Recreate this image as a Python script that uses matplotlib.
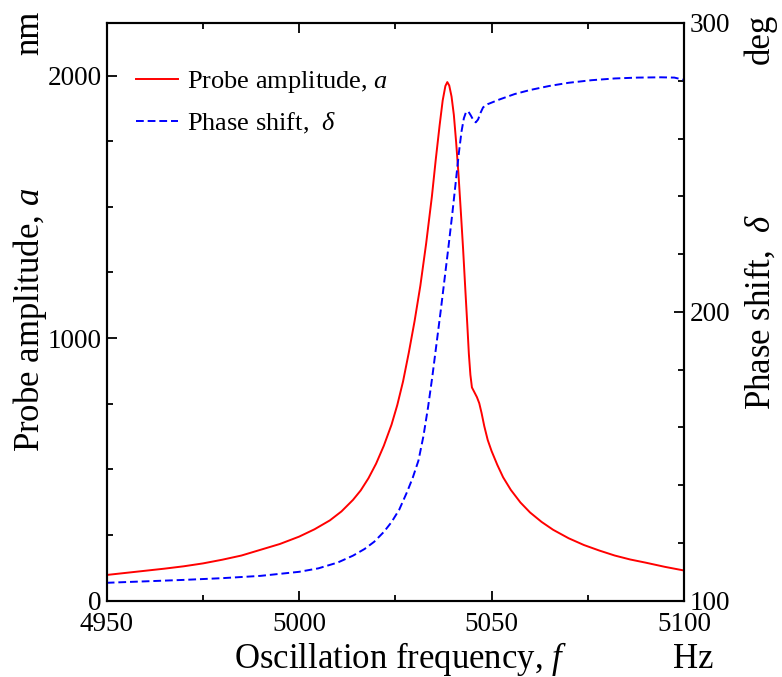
import matplotlib
matplotlib.use("Agg")
import matplotlib.pyplot as plt
from matplotlib.ticker import MultipleLocator

plt.rcParams['font.family'] = ['Liberation Serif', 'DejaVu Serif']
plt.rcParams['mathtext.fontset'] = 'custom'
plt.rcParams['mathtext.rm'] = 'Liberation Serif'
plt.rcParams['mathtext.it'] = 'Liberation Serif:italic'
plt.rcParams['mathtext.fallback'] = 'stix'

# probe amplitude a (nm) vs oscillation frequency f (Hz)
freq_amp = [4950, 4955, 4960, 4965, 4970, 4975, 4980, 4985, 4990, 4995, 5000,
            5004, 5008, 5011, 5014, 5016, 5018, 5020, 5022, 5024, 5025.5, 5027,
            5028.5, 5030, 5031.5, 5033, 5034.5, 5035.5, 5036.5, 5037.3, 5038.0,
            5038.5, 5039.0, 5039.6, 5040.2, 5040.8, 5041.4, 5042.0, 5042.6,
            5043.2, 5043.7, 5044.1, 5044.5, 5044.9, 5045.5, 5046.2, 5046.8,
            5047.4, 5048.1, 5049, 5050, 5051.5, 5053, 5055, 5057.5, 5060, 5063,
            5066, 5070, 5074, 5078, 5082, 5086, 5090, 5095, 5100]
amplitude = [98, 106, 114, 122, 131, 142, 156, 172, 194, 216, 244,
             272, 306, 340, 384, 420, 466, 522, 590, 670, 745, 835,
             945, 1065, 1200, 1360, 1540, 1680, 1810, 1905, 1960,
             1975, 1962, 1920, 1850, 1745, 1625, 1485, 1340,
             1180, 1050, 940, 860, 812, 795, 775, 752,
             715, 665, 612, 570, 517, 470, 422, 374, 336, 300,
             270, 238, 212, 191, 172, 157, 145, 129, 115]

# phase shift delta (deg) vs oscillation frequency f (Hz)
freq_phase = [4950, 4960, 4970, 4980, 4990, 5000, 5005, 5010, 5014, 5017,
              5019.5, 5022, 5024, 5026, 5028, 5029.5, 5031, 5032.3, 5033.5,
              5034.6, 5035.7, 5036.8, 5037.8, 5038.8, 5039.8, 5040.7, 5041.5,
              5042.2, 5042.8, 5043.4, 5044.0, 5044.6, 5045.3, 5045.9, 5046.5,
              5047.1, 5047.8, 5049, 5052, 5056, 5060, 5065, 5070, 5076, 5082,
              5088, 5094, 5097.5, 5100]
phase = [106.2, 106.7, 107.2, 107.8, 108.6, 110.0, 111.2, 113.2, 115.6, 117.9,
         120.4, 123.8, 127.2, 131.5, 137.5, 142.5, 148.5, 157.0, 167.0,
         177.5, 189.0, 200.5, 211.5, 222.5, 234.0, 245.0, 255.0,
         262.5, 267.0, 269.3, 269.3, 268.0, 266.3, 265.6, 266.6,
         268.8, 270.8, 271.9, 273.5, 275.4, 276.8, 278.2, 279.3, 280.2, 280.8,
         281.1, 281.2, 281.1, 280.3]

fig = plt.figure(figsize=(7.82, 6.77), dpi=100)
ax = fig.add_axes([106.7 / 782, 1 - 600.7 / 677, 577.3 / 782, 577.7 / 677])
ax2 = ax.twinx()

l1, = ax.plot(freq_amp, amplitude, color='#ff0000', lw=1.4,
              label='Probe amplitude, $a$')
l2, = ax2.plot(freq_phase, phase, color='#0000ff', lw=1.4,
               linestyle=(0, (4, 2)), label='Phase shift,  $\\delta$')

ax.set_xlim(4950, 5100)
ax.set_ylim(0, 2200)
ax2.set_ylim(100, 300)

ax.xaxis.set_major_locator(MultipleLocator(50))
ax.xaxis.set_minor_locator(MultipleLocator(25))
ax.yaxis.set_major_locator(MultipleLocator(1000))
ax.yaxis.set_minor_locator(MultipleLocator(250))
ax2.yaxis.set_major_locator(MultipleLocator(100))
ax2.yaxis.set_minor_locator(MultipleLocator(20))

ax.tick_params(which='both', direction='in', top=True, right=False,
               labelsize=19.5, width=1.3)
ax.tick_params(which='major', length=7)
ax.tick_params(which='minor', length=4.5)
ax.tick_params(axis='x', pad=8)
ax.tick_params(axis='y', pad=3.5)
ax2.tick_params(which='both', direction='in', labelsize=19.5, width=1.3, pad=4)
ax2.tick_params(which='major', length=7)
ax2.tick_params(which='minor', length=4.5)

for a in (ax, ax2):
    for s in a.spines.values():
        s.set_linewidth(1.5)

ax.legend(handles=[l1, l2], loc='upper left', bbox_to_anchor=(0.05, 0.92),
          frameon=False, fontsize=19, handlelength=1.6, handletextpad=0.35,
          labelspacing=0.6, borderpad=0, borderaxespad=0)

# axis titles and units
fig.text(401 / 782, 9 / 677, 'Oscillation frequency, $f$', fontsize=25,
         ha='center', va='baseline')
fig.text(693 / 782, 9 / 677, 'Hz', fontsize=25, ha='center', va='baseline')
fig.text(30 / 782, 1 - 320 / 677, 'Probe amplitude, $a$', fontsize=25,
         rotation=90, ha='center', va='center')
fig.text(30 / 782, 1 - 33 / 677, 'nm', fontsize=25, rotation=90,
         ha='center', va='center')
fig.text(760 / 782, 1 - 312 / 677, 'Phase shift,  $\\delta$', fontsize=25,
         rotation=90, ha='center', va='center')
fig.text(760 / 782, 1 - 39 / 677, 'deg', fontsize=25, rotation=90,
         ha='center', va='center')

fig.savefig('out.png', dpi=100)
